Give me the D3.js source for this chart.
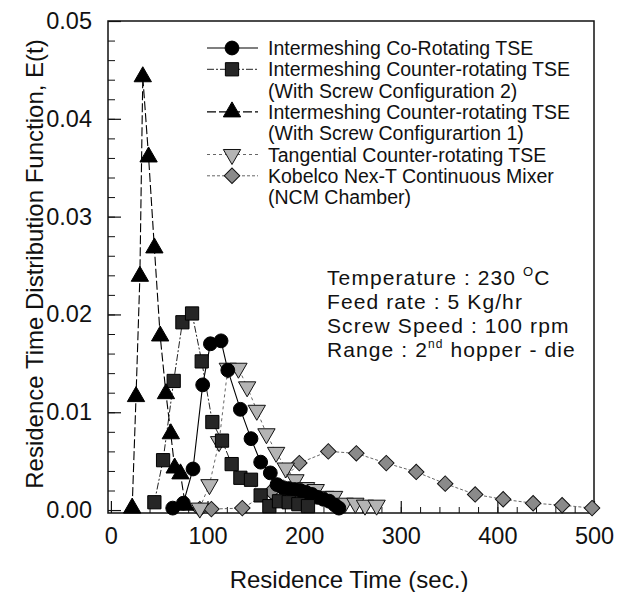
<!DOCTYPE html>
<html>
<head>
<meta charset="utf-8">
<script src="https://cdn.jsdelivr.net/npm/d3@7"></script>
<style>
    body { margin: 0; background: #fff; }
    text { font-family: "Liberation Sans", Arial, sans-serif; fill: #111; }
</style>
</head>
<body>
<svg id="chart" width="618" height="592"></svg>
<script>
// residence time (sec.) vs E(t)
const coRotating = [
    [64, 0.0002], [75, 0.0007], [85, 0.0042], [95, 0.0128], [103, 0.0170],
    [114, 0.0173], [121, 0.0143], [134, 0.0103], [145, 0.0073], [155, 0.0049],
    [165, 0.0038], [172, 0.0026], [178, 0.0023], [184, 0.0022], [190, 0.0021],
    [196, 0.0020], [202, 0.0018], [208, 0.0016], [214, 0.0013], [220, 0.0011],
    [226, 0.0009], [232, 0.0005], [236, 0.0002]
];
const counterConfig2 = [
    [45, 0.0008], [54, 0.0051], [65, 0.0132], [74, 0.0192], [84, 0.0201],
    [94, 0.0152], [105, 0.0090], [115, 0.0071], [125, 0.0047], [134, 0.0033],
    [145, 0.0031], [155, 0.0015], [164, 0.0004], [174, 0.0009], [184, 0.0008],
    [194, 0.0006], [204, 0.0004]
];
const counterConfig1 = [
    [22, 0.0002], [26, 0.0116], [30, 0.0239], [33, 0.0443], [39, 0.0361],
    [45, 0.0268], [51, 0.0178], [57, 0.0119], [62, 0.0078], [66, 0.0043],
    [72, 0.0037], [77, 0.0005]
];
const tangential = [
    [92, 0.0002], [102, 0.0026], [112, 0.0070], [121, 0.0145], [132, 0.0145],
    [141, 0.0126], [151, 0.0102], [161, 0.0078], [171, 0.0059], [181, 0.0043],
    [191, 0.0031], [202, 0.0023], [212, 0.0021], [222, 0.0014], [231, 0.0014],
    [242, 0.0007], [253, 0.0007], [263, 0.0005], [275, 0.0005]
];
const kobelco = [
    [92, 0.0001], [104, 0.0001], [136, 0.0002], [166, 0.0019], [195, 0.0048],
    [225, 0.0060], [254, 0.0058], [285, 0.0048], [316, 0.0039], [346, 0.0027],
    [377, 0.0016], [406, 0.0011], [437, 0.0007], [467, 0.0005], [498, 0.0002]
];

const legendLabels = [
    ["Intermeshing Co-Rotating TSE"],
    ["Intermeshing Counter-rotating TSE", "(With Screw Configuration 2)"],
    ["Intermeshing Counter-rotating TSE", "(With Screw Configurartion 1)"],
    ["Tangential Counter-rotating TSE"],
    ["Kobelco Nex-T Continuous Mixer", "(NCM Chamber)"]
];

const xTicks = [0, 100, 200, 300, 400, 500];
const yTicks = [0.00, 0.01, 0.02, 0.03, 0.04, 0.05];

const FONT = "\"Liberation Sans\", Arial, sans-serif";

const svg = d3.select("#chart");

const x = d3.scaleLinear().domain([-3, 500]).range([108, 594]);
const y = d3.scaleLinear().domain([-0.0003, 0.05]).range([513, 21]);

// marker + line style per series, same order as legendLabels
const styles = [
    { data: coRotating, symbol: d3.symbolCircle, size: 150, rot: 0,
      fill: "#000", stroke: "#000", dash: null, lineColor: "#000", lw: 1.1 },
    { data: counterConfig2, symbol: d3.symbolSquare, size: 175, rot: 0,
      fill: "#262626", stroke: "#000", dash: "7,2,2,2", lineColor: "#222", lw: 1 },
    { data: counterConfig1, symbol: d3.symbolTriangle, size: 130, rot: 0,
      fill: "#000", stroke: "#000", dash: "9,3", lineColor: "#000", lw: 1.1 },
    { data: tangential, symbol: d3.symbolTriangle, size: 130, rot: 180,
      fill: "#b4b4b4", stroke: "#111", dash: "3,3", lineColor: "#555", lw: 0.9 },
    { data: kobelco, symbol: d3.symbolSquare, size: 120, rot: 45,
      fill: "#8a8a8a", stroke: "#111", dash: "3,2", lineColor: "#555", lw: 0.9 }
];

// axes frame
svg.append("rect")
    .attr("x", x.range()[0]).attr("y", y.range()[1])
    .attr("width", x.range()[1] - x.range()[0])
    .attr("height", y.range()[0] - y.range()[1])
    .attr("fill", "none").attr("stroke", "#111").attr("stroke-width", 1.5);

// minor ticks first, majors over them
svg.append("g")
    .attr("transform", "translate(0," + y.range()[0] + ")")
    .call(d3.axisBottom(x).tickValues(d3.range(20, 500, 20)).tickSize(-6).tickFormat(""))
    .call((g) => g.select(".domain").remove());
svg.append("g")
    .attr("transform", "translate(" + x.range()[0] + ",0)")
    .call(d3.axisLeft(y).tickValues(d3.range(0.002, 0.05, 0.002)).tickSize(-7).tickFormat(""))
    .call((g) => g.select(".domain").remove());

const xAxis = svg.append("g")
    .attr("transform", "translate(0," + y.range()[0] + ")")
    .call(d3.axisBottom(x).tickValues(xTicks).tickSizeInner(-12).tickSizeOuter(0).tickPadding(14));
const yAxis = svg.append("g")
    .attr("transform", "translate(" + x.range()[0] + ",0)")
    .call(d3.axisLeft(y).tickValues(yTicks).tickSizeInner(-13).tickSizeOuter(0)
        .tickPadding(16).tickFormat(d3.format(".2f")));

[xAxis, yAxis].forEach((g) => {
    g.select(".domain").remove();
    g.selectAll("line").attr("stroke", "#111").attr("stroke-width", 1.2);
    g.selectAll("text").style("font-family", FONT).style("font-size", "23.5px").attr("fill", "#111");
});
svg.selectAll("g line").attr("stroke", "#111");

// axis titles
svg.append("text")
    .attr("x", (x.range()[0] + x.range()[1]) / 2 - 2).attr("y", 588)
    .attr("text-anchor", "middle").style("font-size", "24px")
    .text("Residence Time (sec.)");
svg.append("text")
    .attr("transform", "translate(43," + 264 + ") rotate(-90)")
    .attr("text-anchor", "middle").style("font-size", "24px")
    .text("Residence Time Distribution Function, E(t)");

const line = d3.line().x((d) => x(d[0])).y((d) => y(d[1]));

function marker(sel, s) {
    sel.attr("d", d3.symbol().type(s.symbol).size(s.size))
        .attr("fill", s.fill)
        .attr("stroke", s.stroke)
        .attr("stroke-width", 1);
}

// lines underneath, markers on top (later series drawn over earlier ones)
styles.forEach((s) => {
    svg.append("path")
        .datum(s.data)
        .attr("d", line)
        .attr("fill", "none")
        .attr("stroke", s.lineColor)
        .attr("stroke-width", s.lw)
        .attr("stroke-dasharray", s.dash);
});

[4, 3, 0, 1, 2].forEach((k) => {
    const s = styles[k];
    svg.append("g").selectAll("path")
        .data(s.data)
        .enter().append("path")
            .attr("transform", (d) => "translate(" + x(d[0]) + "," + y(d[1]) + ") rotate(" + s.rot + ")")
            .call(marker, s);
});

// legend
const legend = svg.append("g");
let row = 0;
legendLabels.forEach((lines, k) => {
    const s = styles[k];
    const cy = 48 + row * 21.3;
    legend.append("line")
        .attr("x1", 207).attr("x2", 258).attr("y1", cy).attr("y2", cy)
        .attr("stroke", s.lineColor).attr("stroke-width", s.lw)
        .attr("stroke-dasharray", s.dash);
    legend.append("path")
        .attr("transform", "translate(232," + cy + ") rotate(" + s.rot + ")")
        .call(marker, s);
    lines.forEach((t, j) => {
        legend.append("text")
            .attr("x", 268).attr("y", cy + j * 21.3 + 7)
            .style("font-size", "19.5px")
            .text(t);
    });
    row += lines.length;
});

// run conditions
const notes = svg.append("g").style("font-size", "21px").style("letter-spacing", "1.1px");
const noteY = [285, 309, 333, 357];

let t0 = notes.append("text").attr("x", 327).attr("y", noteY[0]);
t0.append("tspan").text("Temperature : 230 ");
t0.append("tspan").attr("dy", -9).style("font-size", "13px").text("O");
t0.append("tspan").attr("dy", 9).text("C");

notes.append("text").attr("x", 327).attr("y", noteY[1]).text("Feed rate : 5 Kg/hr");
notes.append("text").attr("x", 327).attr("y", noteY[2]).text("Screw Speed : 100 rpm");

let t3 = notes.append("text").attr("x", 327).attr("y", noteY[3]);
t3.append("tspan").text("Range : 2");
t3.append("tspan").attr("dy", -9).style("font-size", "12px").text("nd");
t3.append("tspan").attr("dy", 9).text(" hopper - die");
</script>
</body>
</html>
